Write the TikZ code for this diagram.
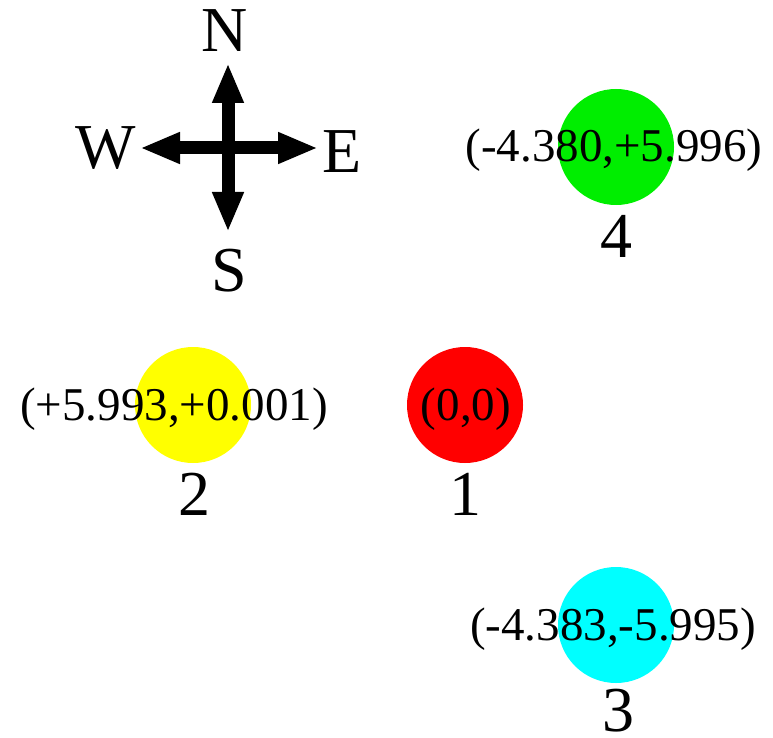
\documentclass[tikz,border=0pt]{standalone}
\usepackage{fontspec}
\setmainfont{Liberation Serif}
\usetikzlibrary{arrows.meta}
\definecolor{siteRed}{HTML}{FF0000}
\definecolor{siteYellow}{HTML}{FFFF00}
\definecolor{siteCyan}{HTML}{00FFFF}
\definecolor{siteGreen}{HTML}{00EE00}

\begin{document}
\begin{tikzpicture}[
    x=1pt, y=-1pt,
    site/.style={circle, minimum size=116pt, inner sep=0pt},
    coordlabel/.style={anchor=base, inner sep=0pt, font=\fontsize{47}{50}\selectfont},
    sitelabel/.style={anchor=base, inner sep=0pt, text depth=0pt, font=\fontsize{64}{68}\selectfont},
    compass/.style={draw=black, line width=13pt, {Triangle[length=40pt,width=29pt]}-{Triangle[length=40pt,width=29pt]}}
]
    \useasboundingbox (0,0) rectangle (773,738);

    % compass
    \coordinate (tipN) at (228,63);
    \coordinate (tipS) at (228,232);
    \coordinate (tipW) at (140,148);
    \coordinate (tipE) at (318,148);
    \draw[compass] (tipS) -- (tipN);
    \draw[compass] (tipW) -- (tipE);
    \node[sitelabel] (N) at (225,52) {N};
    \node[sitelabel] (S) at (229,291) {S};
    \node[sitelabel] (W) at (106,168) {W};
    \node[sitelabel] (E) at (342,172) {E};

    % sites
    \node[site, fill=siteRed] (c1) at (465,405) {};
    \node[site, fill=siteYellow] (c2) at (193,405) {};
    \node[site, fill=siteCyan] (c3) at (616,625) {};
    \node[site, fill=siteGreen] (c4) at (616,147) {};

    \node[coordlabel] (p1) at (466,420) {(0,0)};
    \node[coordlabel] (p2) at (174,420) {(+5.993,+0.001)};
    \node[coordlabel] (p3) at (613,640) {(-4.383,-5.995)};
    \node[coordlabel] (p4) at (614,162) {(-4.380,+5.996)};

    \node[sitelabel] (n1) at (465,515) {1};
    \node[sitelabel] (n2) at (194,515) {2};
    \node[sitelabel] (n3) at (618,731) {3};
    \node[sitelabel] (n4) at (616,257) {4};
\end{tikzpicture}
\end{document}
